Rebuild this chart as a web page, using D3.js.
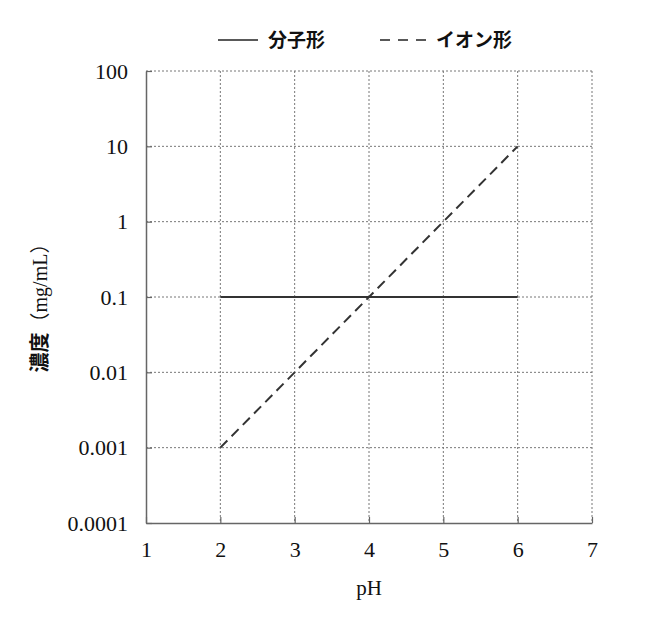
<!DOCTYPE html>
<html>
<head>
<meta charset="utf-8">
<script src="https://cdn.jsdelivr.net/npm/d3@7"></script>
<style>
  body { margin: 0; background: #fff; }
  .tick text { font-family: "Liberation Serif", "DejaVu Serif", serif; }
</style>
</head>
<body>
<svg id="canvas" width="650" height="624"></svg>
<script>
let xTicks = [1, 2, 3, 4, 5, 6, 7]
let yTicks = [0.0001, 0.001, 0.01, 0.1, 1, 10, 100]
let yTickLabels = ['0.0001', '0.001', '0.01', '0.1', '1', '10', '100']

// 分子形: constant, イオン形: rises one decade per pH unit
let phValues = [2, 3, 4, 5, 6]
let molecular = [0.1, 0.1, 0.1, 0.1, 0.1]
let ionic = [0.001, 0.01, 0.1, 1, 10]

let seriesNames = ['分子形', 'イオン形']

let canvas = d3.select('#canvas')

let plotLeft = 146, plotRight = 592, plotTop = 71, plotBottom = 523

let xScale = d3.scaleLinear().domain([1, 7]).range([plotLeft, plotRight])
let yScale = d3.scaleLog().domain([0.0001, 100]).range([plotBottom, plotTop])

// grid lines (dotted)
canvas.append('g')
    .selectAll('line')
    .data(xTicks.slice(1))
    .enter()
    .append('line')
    .attr('x1', (d) => xScale(d))
    .attr('x2', (d) => xScale(d))
    .attr('y1', plotTop)
    .attr('y2', plotBottom)
    .attr('stroke', '#777')
    .attr('stroke-width', 1)
    .attr('stroke-dasharray', '2,2')

canvas.append('g')
    .selectAll('line')
    .data(yTicks.slice(1))
    .enter()
    .append('line')
    .attr('x1', plotLeft)
    .attr('x2', plotRight)
    .attr('y1', (d) => yScale(d))
    .attr('y2', (d) => yScale(d))
    .attr('stroke', '#777')
    .attr('stroke-width', 1)
    .attr('stroke-dasharray', '2,2')

// axes
let xAxis = d3.axisBottom(xScale)
    .tickValues(xTicks)
    .tickFormat(d3.format('d'))
    .tickSizeInner(-6)
    .tickSizeOuter(0)
    .tickPadding(18)

let yAxis = d3.axisLeft(yScale)
    .tickValues(yTicks)
    .tickFormat((d, i) => yTickLabels[i])
    .tickSizeInner(-6)
    .tickSizeOuter(0)
    .tickPadding(18)

let gx = canvas.append('g')
    .attr('transform', 'translate(0,' + plotBottom + ')')
    .call(xAxis)

let gy = canvas.append('g')
    .attr('transform', 'translate(' + plotLeft + ',0)')
    .call(yAxis)

for (let g of [gx, gy]) {
    g.select('.domain').attr('stroke', '#666').attr('stroke-width', 1.5)
    g.selectAll('.tick line').attr('stroke', '#666').attr('stroke-width', 1.2)
    g.selectAll('.tick text')
        .attr('fill', '#111')
        .style('font-size', '22px')
}

// data lines
let line = d3.line()
    .x((d) => xScale(d[0]))
    .y((d) => yScale(d[1]))

canvas.append('path')
    .datum(phValues.map((p, i) => [p, molecular[i]]))
    .attr('d', line)
    .attr('fill', 'none')
    .attr('stroke', '#333')
    .attr('stroke-width', 2)

canvas.append('path')
    .datum(phValues.map((p, i) => [p, ionic[i]]))
    .attr('d', line)
    .attr('fill', 'none')
    .attr('stroke', '#333')
    .attr('stroke-width', 2)
    .attr('stroke-dasharray', '10,6')

// axis titles
canvas.append('text')
    .text('pH')
    .attr('x', (plotLeft + plotRight) / 2)
    .attr('y', 595)
    .attr('text-anchor', 'middle')
    .style('font-family', '"Liberation Serif", serif')
    .style('font-size', '21px')
    .attr('fill', '#111')

let yTitle = canvas.append('text')
    .attr('transform', 'translate(47,' + ((plotTop + plotBottom) / 2 + 6) + ') rotate(-90)')
    .attr('text-anchor', 'middle')
    .attr('fill', '#111')
    .style('font-size', '20px')
yTitle.append('tspan')
    .text('濃度')
    .style('font-family', '"Noto Sans CJK JP", sans-serif')
    .style('font-weight', 'bold')
yTitle.append('tspan')
    .text('（mg/mL）')
    .style('font-family', '"Liberation Serif", "Noto Sans CJK JP", serif')

// legend
let legend = canvas.append('g')
let legendItems = [
    { name: seriesNames[0], x1: 218, x2: 258, dash: null, tx: 268 },
    { name: seriesNames[1], x1: 380, x2: 426, dash: '10,8', tx: 436 }
]
legendItems.forEach((it) => {
    legend.append('line')
        .attr('x1', it.x1).attr('x2', it.x2)
        .attr('y1', 40).attr('y2', 40)
        .attr('stroke', '#222')
        .attr('stroke-width', 1.6)
        .attr('stroke-dasharray', it.dash)
    legend.append('text')
        .text(it.name)
        .attr('x', it.tx)
        .attr('y', 47)
        .attr('fill', '#111')
        .style('font-family', '"Noto Sans CJK JP", sans-serif')
        .style('font-weight', 'bold')
        .style('font-size', '19px')
})
</script>
</body>
</html>
